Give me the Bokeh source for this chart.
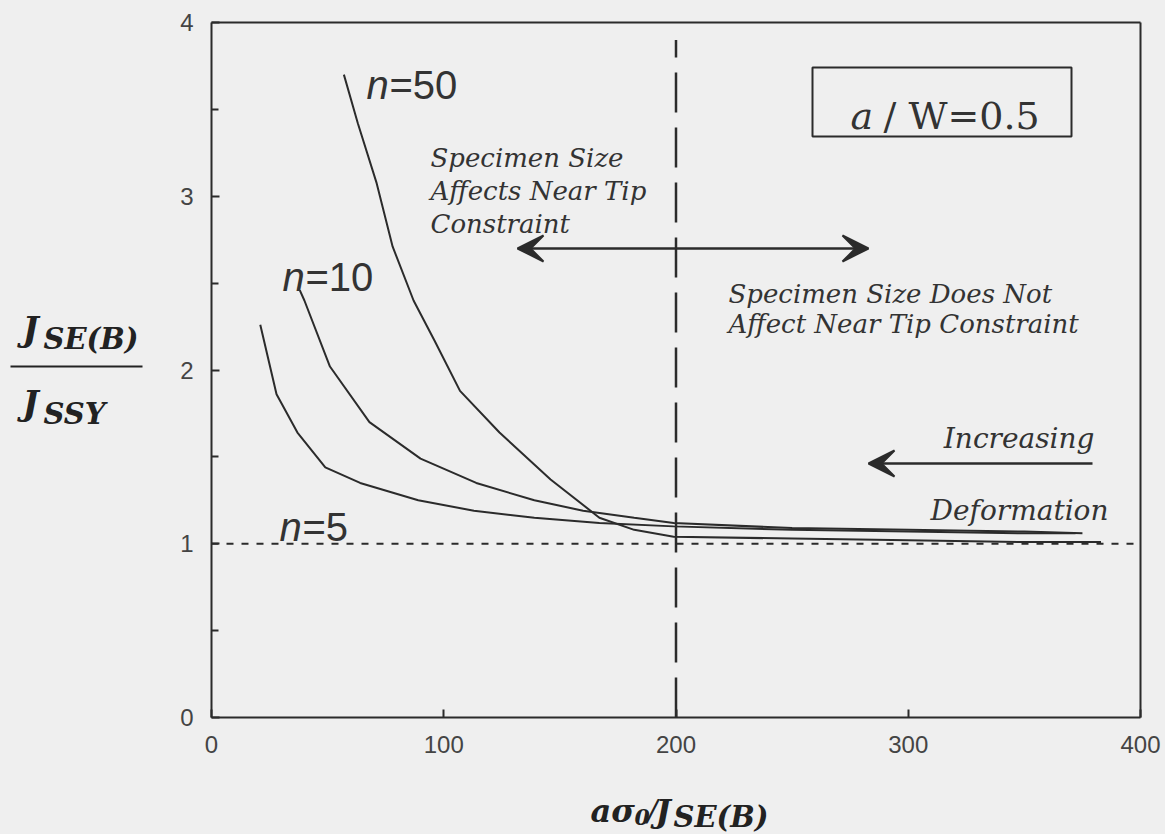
import numpy as np
from bokeh.plotting import figure
from bokeh.models import Label, Arrow, VeeHead, FixedTicker, Range1d, LinearAxis
from bokeh.embed import file_html
from bokeh.resources import INLINE

# ---------------- data ----------------
n5_x = [21, 28, 37, 49, 64, 89, 113, 139, 167, 199, 250, 300, 350, 372]
n5_y = [2.26, 1.86, 1.64, 1.44, 1.35, 1.25, 1.19, 1.15, 1.12, 1.10, 1.08, 1.07, 1.06, 1.06]

n10_x = [38, 40, 51, 68, 90, 114, 139, 160, 182, 199, 250, 300, 350, 375]
n10_y = [2.46, 2.40, 2.02, 1.70, 1.49, 1.35, 1.25, 1.19, 1.15, 1.12, 1.09, 1.08, 1.07, 1.06]

n50_x = [57, 63, 71, 78, 87, 96, 107, 124, 146, 167, 182, 199, 250, 300, 350, 383]
n50_y = [3.70, 3.42, 3.08, 2.71, 2.40, 2.17, 1.88, 1.64, 1.37, 1.15, 1.08, 1.04, 1.03, 1.02, 1.01, 1.01]

x_ticks = [0, 100, 200, 300, 400]
y_ticks = [0, 1, 2, 3, 4]
y_minor = [0.5, 1.5, 2.5, 3.5]
x_lim = (0, 400)
y_lim = (0, 4)

ref_x = 200        # vertical dashed reference line
ref_x_top = 3.9
ref_y = 1.0        # horizontal dotted reference line

# ---------------- layout (pixel geometry of the plot box) ----------------
W, H = 1165, 834
FX0, FX1 = 211, 1140     # page x of x=0 and x=400
FY0, FY1 = 717, 22       # page y of y=0 and y=4
sx = (FX1 - FX0) / (x_lim[1] - x_lim[0])
sy = (FY0 - FY1) / (y_lim[1] - y_lim[0])

x_range = Range1d(x_lim[0] - FX0 / sx, x_lim[0] + (W - FX0) / sx)
y_range = Range1d(y_lim[0] - (H - FY0) / sy, y_lim[0] + FY0 / sy)

p = figure(width=W, height=H, x_range=x_range, y_range=y_range,
           x_axis_location=None, y_axis_location=None,
           output_backend="svg", toolbar_location=None,
           min_border_left=0, min_border_right=0, min_border_top=0, min_border_bottom=0)

BG = "#efefef"
INK = "#2b2b2b"
p.background_fill_color = BG
p.border_fill_color = BG
p.outline_line_color = None
p.grid.visible = False


def style_axis(ax):
    ax.axis_line_color = INK
    ax.axis_line_width = 2
    ax.major_tick_in = 8
    ax.major_tick_out = 0
    ax.minor_tick_in = 7
    ax.minor_tick_out = 0
    ax.major_tick_line_color = INK
    ax.minor_tick_line_color = INK
    ax.major_tick_line_width = 2
    ax.minor_tick_line_width = 2
    ax.major_label_text_font = "Liberation Sans"
    ax.major_label_text_font_size = "24px"
    ax.major_label_text_color = "#444444"


xax = LinearAxis(ticker=FixedTicker(ticks=x_ticks, minor_ticks=[]), fixed_location=y_lim[0],
                 bounds=x_lim, major_label_standoff=18)
yax = LinearAxis(ticker=FixedTicker(ticks=y_ticks, minor_ticks=y_minor), fixed_location=x_lim[0],
                 bounds=y_lim, major_label_standoff=18)
style_axis(xax)
style_axis(yax)
p.add_layout(xax, "below")
p.add_layout(yax, "left")

# top and right sides of the box (plain axes, no ticks)
tax = LinearAxis(ticker=FixedTicker(ticks=[], minor_ticks=[]), fixed_location=y_lim[1], bounds=x_lim)
rax = LinearAxis(ticker=FixedTicker(ticks=[], minor_ticks=[]), fixed_location=x_lim[1], bounds=y_lim)
for ax in (tax, rax):
    ax.axis_line_color = INK
    ax.axis_line_width = 2
p.add_layout(tax, "above")
p.add_layout(rax, "right")

# curves
for xs, ys in ((n5_x, n5_y), (n10_x, n10_y), (n50_x, n50_y)):
    p.line(xs, ys, line_color=INK, line_width=2)

# reference lines
p.line([ref_x, ref_x], [y_lim[0], ref_x_top], line_color=INK, line_width=2.5, line_dash="40 15")
p.line(list(x_lim), [ref_y, ref_y], line_color=INK, line_width=2, line_dash="7 8")

# ---------------- annotation placement helpers ----------------
def px2x(px):
    return x_lim[0] + (px - FX0) / sx


def px2y(py):
    return y_lim[0] + (FY0 - py) / sy


SERIF = "DejaVu Serif"
SANS = "Liberation Sans"


def lab(text, px, py, size, font=SERIF, style="italic", align="left", color="#333333", x_offset=0):
    l = Label(x=px2x(px), y=px2y(py), text=text, text_font=font, text_font_size=f"{size}px",
              text_font_style=style, text_align=align, text_baseline="alphabetic",
              text_color=color, x_offset=x_offset)
    p.add_layout(l)
    return l


# n labels (italic n, upright rest)
for txt, px, py in (("=50", 366, 84), ("=10", 282, 276), ("=5", 279, 526)):
    lab("n", px, py, 40, font=SANS, style="italic")
    lab(txt, px, py, 40, font=SANS, style="normal", x_offset=23)

# region texts
lab("Specimen Size", 430, 157, 26)
lab("Affects Near Tip", 430, 190, 26)
lab("Constraint", 430, 223, 26)
lab("Specimen Size Does Not", 728, 293, 26)
lab("Affect Near Tip Constraint", 728, 323, 26)
lab("Increasing", 1094, 438, 28, align="right")
lab("Deformation", 1108, 510, 28, align="right")

# a/W box
p.quad(left=[px2x(812)], right=[px2x(1071)], top=[px2y(67)], bottom=[px2y(136)],
       fill_color=None, line_color=INK, line_width=2)
lab("a", 850, 115, 38, style="italic")
lab("/ W=0.5", 850, 115, 38, style="normal", x_offset=33)

# arrows
head = dict(size=26, fill_color=INK, line_color=INK, line_width=2)
p.add_layout(Arrow(start=VeeHead(**head), end=VeeHead(**head),
                   x_start=px2x(517), y_start=px2y(248), x_end=px2x(868), y_end=px2y(248),
                   line_color=INK, line_width=2.5))
p.add_layout(Arrow(end=VeeHead(**head), x_start=px2x(1092), y_start=px2y(463),
                   x_end=px2x(868), y_end=px2y(463), line_color=INK, line_width=2.5))

# y-axis label: J_SE(B) / J_SSY
LBL = "#222222"
lab("J", 22, 328, 34, style="bold italic", color=LBL)
lab("SE(B)", 43, 338, 29, style="bold italic", color=LBL)
p.add_layout(Arrow(end=None, x_start=px2x(10), y_start=px2y(366), x_end=px2x(142), y_end=px2y(366),
                   line_color=LBL, line_width=2))
lab("J", 22, 402, 34, style="bold italic", color=LBL)
lab("SSY", 43, 413, 29, style="bold italic", color=LBL)

# x-axis label: a sigma_0 / J_SE(B)
lab("aσ", 590, 810, 32, style="bold italic", color=LBL)
lab("0", 634, 816, 22, style="bold italic", color=LBL)
lab("/", 647, 810, 30, style="italic", color=LBL)
lab("J", 655, 810, 32, style="bold italic", color=LBL)
lab("SE(B)", 673, 816, 29, style="bold italic", color=LBL)

html = file_html(p, INLINE, title="J ratio")
html = html.replace("</head>",
                    "<style>html,body{margin:0;padding:0;background:%s;overflow:hidden}</style></head>" % BG, 1)
open("out.html", "w").write(html)
